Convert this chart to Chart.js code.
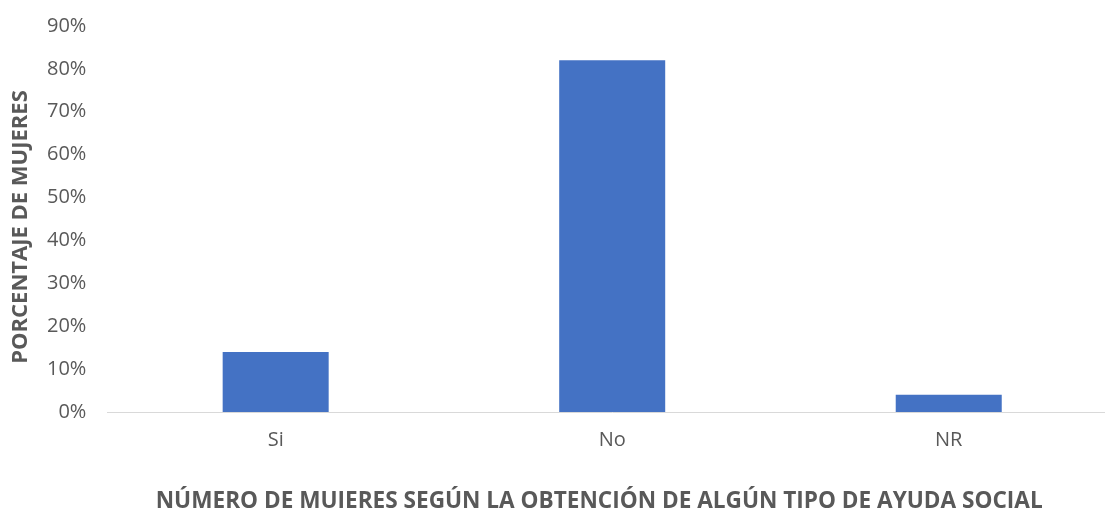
<!DOCTYPE html>
<html>
<head>
<meta charset="utf-8">
<script src="https://cdn.jsdelivr.net/npm/chart.js@4.4.1/dist/chart.umd.min.js"></script>
<style>
  html, body { margin: 0; padding: 0; background: #fff; overflow: hidden; }
  #wrap { width: 1105px; height: 508px; overflow: hidden; }
  #box { width: 1117px; height: 508px; position: relative; }
</style>
</head>
<body>
<div id="wrap"><div id="box"><canvas id="chart"></canvas></div></div>
<script>
// datos
const categorias = ["Si", "No", "NR"];
const porcentajes = [14, 82, 4];
const tituloX = "NÚMERO DE MUJERES SEGÚN LA OBTENCIÓN DE ALGÚN TIPO DE AYUDA SOCIAL";
const tituloY = "PORCENTAJE DE MUJERES";

const gris = "#595959";
const fuente = "'Open Sans', 'Liberation Sans', sans-serif";

// los títulos de los ejes en el original no están centrados sobre el área del gráfico,
// así que se dibujan aparte
const titulosPlugin = {
  id: "titulos",
  afterDraw(chart) {
    const { ctx, chartArea } = chart;
    const medioX = (chartArea.left + chartArea.right) / 2;
    const medioY = (chartArea.top + chartArea.bottom) / 2;
    ctx.save();
    ctx.fillStyle = gris;
    ctx.textAlign = "center";

    ctx.font = "bold 22.6px " + fuente;
    ctx.textBaseline = "alphabetic";
    ctx.fillText(tituloX, medioX - 13, chartArea.bottom + 96);

    ctx.font = "bold 22px " + fuente;
    ctx.textBaseline = "middle";
    ctx.translate(20.5, medioY + 8);
    ctx.rotate(-Math.PI / 2);
    ctx.fillText(tituloY, 0, 0);
    ctx.restore();
  }
};

const ctx = document.getElementById("chart").getContext("2d");
new Chart(ctx, {
  type: "bar",
  data: {
    labels: categorias,
    datasets: [{
      data: porcentajes,
      backgroundColor: "#4472C4",
      barPercentage: 0.315,
      categoryPercentage: 1
    }]
  },
  plugins: [titulosPlugin],
  options: {
    responsive: true,
    maintainAspectRatio: false,
    animation: false,
    layout: { padding: { top: 26, right: 0, bottom: 40, left: 26 } },
    plugins: { legend: { display: false }, tooltip: { enabled: false } },
    scales: {
      x: {
        grid: { display: false, drawTicks: false },
        border: { color: "#d9d9d9", width: 1 },
        ticks: { color: gris, font: { family: fuente, size: 20 }, padding: 16 }
      },
      y: {
        min: 0,
        max: 90,
        grid: { display: false, drawTicks: false },
        border: { display: false },
        ticks: {
          stepSize: 10,
          color: gris,
          font: { family: fuente, size: 20 },
          padding: 21,
          callback: v => v + "%"
        },
        afterFit(scale) {
          // sin margen extra arriba: el 90% queda pegado al borde como en el original
          scale.paddingTop = 0;
        }
      }
    }
  }
});
</script>
</body>
</html>
